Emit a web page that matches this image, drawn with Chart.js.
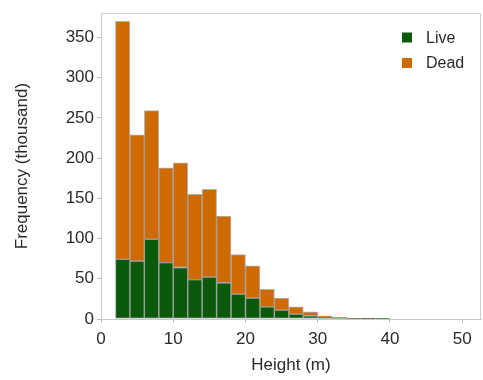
<!DOCTYPE html>
<html>
<head>
<meta charset="utf-8">
<script src="https://cdn.jsdelivr.net/npm/chart.js@4.4.1/dist/chart.umd.min.js"></script>
<style>
html,body{margin:0;padding:0;background:#fff;}
#wrap{width:483px;height:380px;position:relative;}
</style>
</head>
<body>
<div id="wrap"><canvas id="c" width="483" height="380"></canvas></div>
<script>
// Histogram bins (2 m wide), left edges in metres
const binStarts = [2,4,6,8,10,12,14,16,18,20,22,24,26,28,30,32,34,36,38];
// Frequencies in thousands
const liveValues = [74,72,99,70,64,49,52,45,31,26,15,11,6,4,2,1.2,0.7,0.4,0.2];
const deadValues = [296,157,160,118,130,106,109,83,49,40,22,15,9,5,2,0.8,0.3,0.2,0.1];
const seriesNames = ['Live','Dead'];
const seriesColors = ['#0b5a0b','#cf6a00'];
const xTicks = [0,10,20,30,40,50];
const yTicks = [0,50,100,150,200,250,300,350];
const binWidth = 2;

const centers = binStarts.map(s => s + binWidth/2);
const mk = vals => vals.map((v,i) => ({x: centers[i], y: v}));

const frameAndLegend = {
  id: 'frameAndLegend',
  afterDraw(chart) {
    const {ctx, chartArea: a} = chart;
    ctx.save();
    ctx.strokeStyle = '#cfcfcf';
    ctx.lineWidth = 1;
    ctx.beginPath();
    ctx.moveTo(a.left, a.top + 0.5);
    ctx.lineTo(a.right - 0.5, a.top + 0.5);
    ctx.lineTo(a.right - 0.5, a.bottom);
    ctx.stroke();
    // legend
    ctx.font = '16px "Liberation Sans", Arial, sans-serif';
    ctx.textBaseline = 'middle';
    const rows = [37.5, 63];
    chart.data.datasets.forEach((ds, i) => {
      ctx.fillStyle = ds.backgroundColor;
      ctx.fillRect(402, rows[i] - 5, 10, 10);
      ctx.fillStyle = '#2a2a2a';
      ctx.fillText(ds.label, 426, rows[i] + 1);
    });
    ctx.restore();
  }
};

const tickFont = {family: '"Liberation Sans", Arial, sans-serif', size: 17};

new Chart(document.getElementById('c'), {
  type: 'bar',
  data: {
    datasets: [
      {label: seriesNames[0], data: mk(liveValues), backgroundColor: seriesColors[0],
       borderColor: 'rgba(0,0,0,0.3)', borderWidth: 1, barPercentage: 1, categoryPercentage: 1, borderSkipped: false},
      {label: seriesNames[1], data: mk(deadValues), backgroundColor: seriesColors[1],
       borderColor: 'rgba(0,0,0,0.3)', borderWidth: 1, barPercentage: 1, categoryPercentage: 1, borderSkipped: false}
    ]
  },
  options: {
    responsive: false,
    animation: false,
    devicePixelRatio: 1,
    layout: {padding: {top: 13, right: 2, left: 0, bottom: 0}},
    plugins: {legend: {display: false}, tooltip: {enabled: false}},
    scales: {
      x: {
        type: 'linear', stacked: true, min: 0, max: 52.6, offset: false,
        afterBuildTicks: s => { s.ticks = xTicks.map(v => ({value: v})); },
        afterFit: s => { s.height = 61; },
        ticks: {font: tickFont, color: '#2a2a2a', padding: 6, maxRotation: 0, includeBounds: false},
        grid: {drawOnChartArea: false, drawTicks: true, tickLength: 4, color: '#bbbbbb', offset: false},
        border: {color: '#c8c8d0'},
        title: {display: true, text: 'Height (m)', font: tickFont, color: '#2a2a2a', padding: {top: 0, bottom: 4}}
      },
      y: {
        stacked: true, min: 0, max: 380,
        afterBuildTicks: s => { s.ticks = yTicks.map(v => ({value: v})); },
        afterFit: s => { s.width = 101; },
        ticks: {font: tickFont, color: '#2a2a2a', padding: 3, includeBounds: false},
        grid: {drawOnChartArea: false, drawTicks: true, tickLength: 4, color: '#bbbbbb'},
        border: {color: '#c8c8d0'},
        title: {display: true, text: 'Frequency (thousand)', font: tickFont, color: '#2a2a2a', padding: {top: 12, bottom: 0}}
      }
    }
  },
  plugins: [frameAndLegend]
});
</script>
</body>
</html>
